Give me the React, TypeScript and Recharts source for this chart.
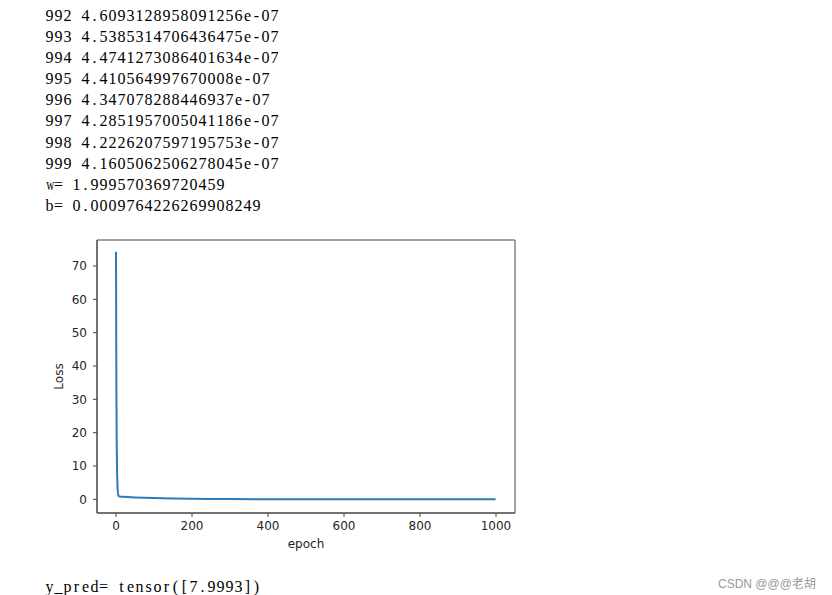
import { LineChart, Line, XAxis, YAxis, ReferenceArea } from 'recharts';

// console output printed above the plot
const logLines = [
  '992 4.6093128958091256e-07',
  '993 4.5385314706436475e-07',
  '994 4.4741273086401634e-07',
  '995 4.410564997670008e-07',
  '996 4.347078288446937e-07',
  '997 4.2851957005041186e-07',
  '998 4.2226207597195753e-07',
  '999 4.1605062506278045e-07',
  'w= 1.999570369720459',
  'b= 0.0009764226269908249',
];

const predLine = 'y_pred= tensor([7.9993])';

// loss curve
const epochs = [0, 1, 2, 3, 4, 5, 6, 7, 8, 10, 15, 20, 30, 40, 50, 75, 100, 150, 200, 250, 300, 400, 500, 600, 700, 800, 900, 999];
const losses = [
  74.3, 33.5, 15.2, 7.2, 3.6, 2.0, 1.3, 1.0, 0.9, 0.85, 0.8, 0.76, 0.7, 0.64, 0.58, 0.47, 0.38,
  0.25, 0.16, 0.1, 0.065, 0.027, 0.011, 0.0045, 0.0018, 0.0007, 0.0003, 0.0000004,
];

const xTicks = [0, 200, 400, 600, 800, 1000];
const yTicks = [0, 10, 20, 30, 40, 50, 60, 70];

const data = epochs.map((e, i) => ({ epoch: e, loss: losses[i] }));

const tickStyle = { fontFamily: 'DejaVu Sans', fontSize: 12, fill: '#262626' };
const consoleFont = { fontFamily: '"Liberation Serif", serif', fontSize: 16, color: '#000' };
const wideChars = 'wmWM';

// the notebook output is a serif monospace font; lay each glyph in a fixed cell
function ConsoleLine({ text }: { text: string }) {
  return (
    <div style={{ whiteSpace: 'pre', height: 21.1 }}>
      {text.split('').map((c, i) => (
        <span
          key={i}
          style={{
            display: 'inline-block',
            width: 9,
            textAlign: 'center',
            transform: wideChars.includes(c) ? 'scaleX(0.7)' : undefined,
          }}
        >
          {c}
        </span>
      ))}
    </div>
  );
}

export default function App() {
  return (
    <div style={{ position: 'fixed', left: 0, top: 0, width: 832, height: 595, background: '#fff', overflow: 'hidden' }}>
      <div style={{ position: 'absolute', left: 45, top: 5, lineHeight: '21.1px', ...consoleFont }}>
        {logLines.map((l) => (
          <ConsoleLine key={l} text={l} />
        ))}
      </div>

      <div style={{ position: 'absolute', left: 40, top: 230 }}>
        <LineChart width={490} height={330} data={data} margin={{ top: 10, right: 15, left: 0, bottom: 0 }}>
          <XAxis
            dataKey="epoch"
            type="number"
            domain={[-50, 1050]}
            ticks={xTicks}
            allowDataOverflow
            height={47}
            tickSize={4}
            tickMargin={4}
            tick={tickStyle}
            stroke="#444"
            tickLine={{ stroke: '#444' }}
            label={{ value: 'epoch', position: 'insideBottom', offset: 12, style: tickStyle }}
          />
          <YAxis
            type="number"
            domain={[-4.1, 77.8]}
            ticks={yTicks}
            allowDataOverflow
            width={57}
            tickSize={4}
            tickMargin={6}
            tick={tickStyle}
            stroke="#444"
            tickLine={{ stroke: '#444' }}
            label={{ value: 'Loss', angle: -90, position: 'insideLeft', offset: 19, style: { ...tickStyle, textAnchor: 'middle' } }}
          />
          <ReferenceArea x1={-50} x2={1050} y1={-4.1} y2={77.8} fill="none" stroke="#444" strokeWidth={1} ifOverflow="visible" />
          <Line
            type="linear"
            dataKey="loss"
            stroke="#2b7bba"
            strokeWidth={2}
            dot={false}
            isAnimationActive={false}
          />
        </LineChart>
      </div>

      <div style={{ position: 'absolute', left: 45, top: 576, lineHeight: '21px', ...consoleFont }}>
        <ConsoleLine text={predLine} />
      </div>

      <div
        style={{
          position: 'absolute',
          left: 718,
          top: 574,
          fontFamily: '"Liberation Sans", "Noto Sans CJK SC", sans-serif',
          fontSize: 12,
          color: '#999',
          whiteSpace: 'nowrap',
        }}
      >
        CSDN @@@老胡
      </div>
    </div>
  );
}
